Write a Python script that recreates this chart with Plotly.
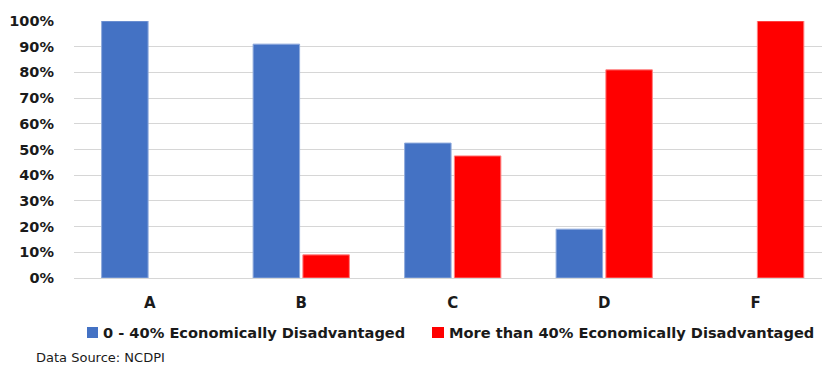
import plotly.graph_objects as go

# Share of schools in each grade, by economic-disadvantage band
grades = ["A", "B", "C", "D", "F"]
low_ed = [1.00, 0.91, 0.525, 0.19, 0.0]      # 0 - 40% Economically Disadvantaged
high_ed = [0.0, 0.09, 0.475, 0.81, 1.00]     # More than 40% Economically Disadvantaged
series_names = ["0 - 40% Economically Disadvantaged",
                "More than 40% Economically Disadvantaged"]
y_ticks = [i / 10 for i in range(11)]
source_note = "Data Source: NCDPI"

BLUE = "#4472C4"
RED = "#FF0000"
FONT = "DejaVu Sans"
TEXT = "#1a1a1a"

W, H = 822, 365
ML, MR, MT, MB = 74, 0, 21, 87
PW = W - ML - MR
PH = H - MT - MB


def px(x):
    return (x - ML) / PW


def py(y):
    return (H - MB - y) / PH


def outline_widths(values):
    # no outline on empty bars so they leave no sliver on the baseline
    return [1 if v > 0 else 0 for v in values]


fig = go.Figure()
fig.add_trace(go.Bar(x=grades, y=low_ed, name=series_names[0],
                     marker=dict(color=BLUE,
                                 line=dict(color="#8FAADC", width=outline_widths(low_ed))),
                     showlegend=False))
fig.add_trace(go.Bar(x=grades, y=high_ed, name=series_names[1],
                     marker=dict(color=RED,
                                 line=dict(color="#FF8080", width=outline_widths(high_ed))),
                     showlegend=False))

fig.update_layout(
    width=W, height=H,
    margin=dict(l=ML, r=MR, t=MT, b=MB),
    paper_bgcolor="white", plot_bgcolor="white",
    barmode="group", bargap=0.343, bargroupgap=0.066,
    font=dict(family=FONT, size=15, color=TEXT),
    xaxis=dict(range=[-0.5, 4.4375], showgrid=False, zeroline=False,
               showline=False, ticks="", ticklabelstandoff=14,
               tickfont=dict(family=FONT, size=15, weight="bold", color=TEXT)),
    yaxis=dict(range=[0, 1], tickvals=y_ticks, tickformat=".0%",
               showgrid=True, gridcolor="#D6D6D6", gridwidth=1.4,
               zeroline=True, zerolinecolor="#D6D6D6", zerolinewidth=1.4,
               showline=False, ticks="", ticklabelstandoff=19,
               tickfont=dict(family=FONT, size=14.5, weight="bold", color=TEXT)),
)

# Legend drawn as swatches plus labels beneath the axis
legend_items = [
    (87, 98, 101, BLUE, series_names[0]),
    (432, 444, 447, RED, series_names[1]),
]
for x0, x1, tx, color, label in legend_items:
    fig.add_shape(type="rect", xref="paper", yref="paper",
                  x0=px(x0), x1=px(x1), y0=py(338), y1=py(327),
                  fillcolor=color, line=dict(width=0))
    fig.add_annotation(text=label, xref="paper", yref="paper",
                       x=px(tx), y=py(332.5), xanchor="left", yanchor="middle",
                       showarrow=False,
                       font=dict(family=FONT, size=14.6, weight="bold", color=TEXT))

fig.add_annotation(text=source_note, xref="paper", yref="paper",
                   x=px(34), y=py(357), xanchor="left", yanchor="middle",
                   showarrow=False,
                   font=dict(family=FONT, size=13, weight="normal", color=TEXT))

fig.write_html("out.html")
